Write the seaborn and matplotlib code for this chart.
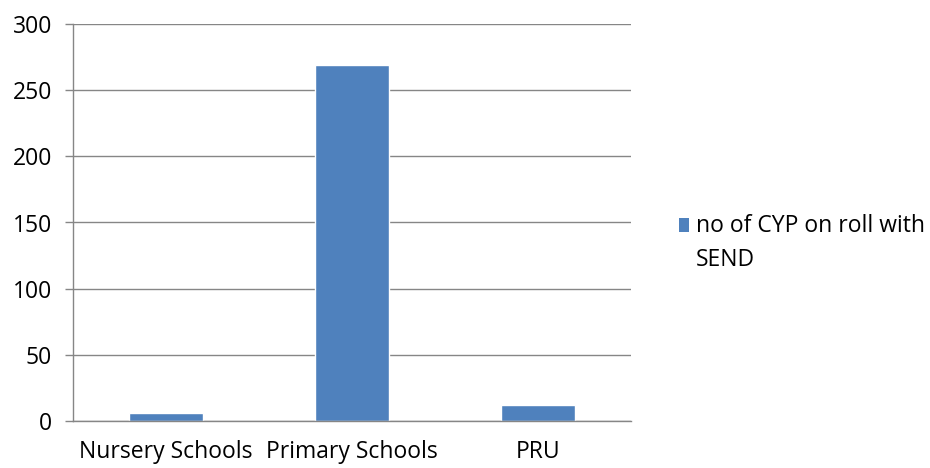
import numpy as np
import pandas as pd
import seaborn as sns
import matplotlib.pyplot as plt
from matplotlib.patches import Patch, Rectangle
from matplotlib.legend_handler import HandlerPatch

# values
categories = ["Nursery Schools", "Primary Schools", "PRU"]
values = [6, 269, 12]
series_name = "no of CYP on roll with\nSEND"
y_ticks = [0, 50, 100, 150, 200, 250, 300]

df = pd.DataFrame({"category": categories, "value": values})

sns.set_theme(style="white")
plt.rcParams["font.family"] = ["Open Sans", "DejaVu Sans"]
plt.rcParams["text.color"] = "black"

bar_color = "#4F81BD"
grid_color = "#868686"
fsize = 16.5

fig = plt.figure(figsize=(9.3, 4.68), dpi=100)
ax = fig.add_axes([73 / 930, 1 - 421 / 468, 558 / 930, 397 / 468])

sns.barplot(data=df, x="category", y="value", color=bar_color,
            width=0.4, saturation=1, ax=ax)

ax.set_ylim(0, 300)
ax.set_xlim(-0.5, 2.5)
ax.set_yticks(y_ticks)
ax.set_xlabel("")
ax.set_ylabel("")

ax.yaxis.grid(True, color=grid_color, linewidth=1)
ax.set_axisbelow(True)

for s in ["top", "right"]:
    ax.spines[s].set_visible(False)
for s in ["left", "bottom"]:
    ax.spines[s].set_color(grid_color)
    ax.spines[s].set_linewidth(1)

# category boundary ticks
ax.set_xticks(np.arange(-0.5, 3, 1), minor=True)
ax.tick_params(axis="x", which="minor", length=6, color=grid_color, width=1, direction="out")
ax.tick_params(axis="x", which="major", length=0, labelsize=fsize, pad=14, labelcolor="black")
ax.tick_params(axis="y", which="major", length=6, color=grid_color, width=1,
               direction="out", labelsize=fsize, pad=9, labelcolor="black", left=True)


# square marker sitting level with the first line of the label
def top_square(legend, orig_handle, xdescent, ydescent, width, height, fontsize):
    return Rectangle((-xdescent, height * 1.3 - ydescent), width, height)


handle = Patch(facecolor=bar_color, edgecolor="none")
leg = fig.legend(handles=[handle], labels=[series_name], loc="center left",
                 bbox_to_anchor=(679 / 930, 1 - 243 / 468), frameon=False,
                 fontsize=fsize, handlelength=0.44, handleheight=0.6,
                 handletextpad=0.3, borderaxespad=0, borderpad=0,
                 handler_map={Patch: HandlerPatch(patch_func=top_square)})
for t in leg.get_texts():
    t.set_linespacing(1.6)
    t.set_color("black")

fig.savefig("out.png", dpi=100)
